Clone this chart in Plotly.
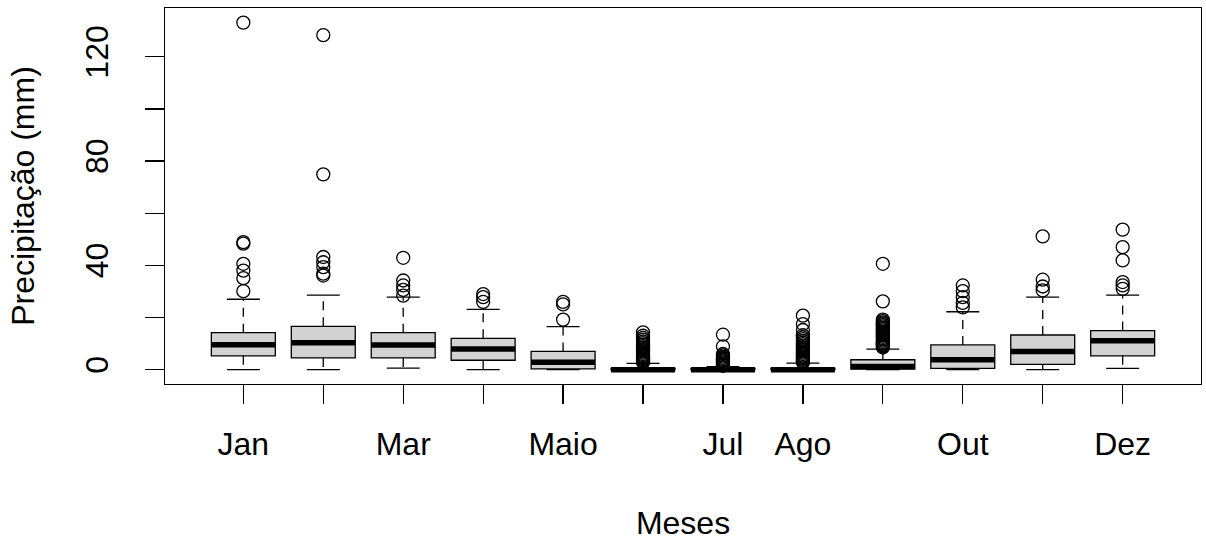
import plotly.graph_objects as go

months = ["Jan", "Fev", "Mar", "Abr", "Maio", "Jun", "Jul", "Ago", "Set", "Out", "Nov", "Dez"]
shown_labels = ["Jan", "", "Mar", "", "Maio", "", "Jul", "Ago", "", "Out", "", "Dez"]
positions = [1, 2, 3, 4, 5, 6, 7, 8, 9, 10, 11, 12]

q1 = [5.3, 4.5, 4.5, 3.6, 0.3, 0.0, 0.0, 0.0, 0.2, 0.5, 2.0, 5.3]
median = [9.6, 10.3, 9.5, 7.9, 2.8, 0.0, 0.0, 0.0, 1.2, 3.8, 7.0, 11.1]
q3 = [14.2, 16.6, 14.2, 12.0, 7.0, 0.5, 0.5, 0.5, 3.8, 9.5, 13.3, 15.0]
lower_whisker = [0.0, 0.0, 0.6, 0.0, 0.0, 0.0, 0.0, 0.0, 0.0, 0.0, 0.0, 0.5]
upper_whisker = [27.0, 28.6, 27.8, 23.1, 16.5, 2.4, 1.2, 2.5, 7.9, 22.2, 27.8, 28.6]

outliers = {
    "Jan": [133.1, 48.9, 48.3, 40.6, 38.0, 35.1, 30.1],
    "Fev": [128.3, 74.9, 43.2, 41.2, 39.3, 36.8, 36.1],
    "Mar": [42.9, 34.2, 32.3, 30.6, 28.4],
    "Abr": [29.0, 27.8, 26.0],
    "Maio": [26.0, 25.0, 19.2],
    "Jun": [2.8, 3.1, 3.4, 3.7, 4.0, 4.4, 4.8, 5.2, 5.6, 6.0, 6.5, 7.0, 7.5, 8.0, 8.5,
            9.0, 9.6, 10.2, 10.8, 11.5, 12.2, 13.0, 14.3],
    "Jul": [1.5, 1.8, 2.1, 2.4, 2.8, 3.2, 3.6, 4.0, 4.5, 5.0, 5.5, 6.0, 8.9, 13.4],
    "Ago": [2.8, 3.1, 3.4, 3.8, 4.2, 4.6, 5.0, 5.5, 6.0, 6.5, 7.0, 7.5, 8.0, 8.6,
            9.2, 9.8, 10.4, 11.0, 11.7, 12.4, 13.2, 15.2, 17.5, 20.7],
    "Set": [8.5, 8.9, 9.3, 9.7, 10.1, 10.6, 11.1, 11.6, 12.1, 12.6, 13.1, 13.6, 14.1,
            14.6, 15.1, 15.6, 16.1, 16.6, 17.1, 17.6, 18.1, 18.6, 19.2, 26.2, 40.6],
    "Out": [32.3, 30.1, 27.8, 25.6, 23.9],
    "Nov": [51.1, 34.5, 31.9, 30.4],
    "Dez": [53.7, 47.0, 41.9, 33.6, 32.3, 31.0],
}

x_title = "Meses"
y_title = "Precipitação (mm)"
y_tick_vals = [0, 40, 80, 120]
y_minor_vals = [0, 20, 40, 60, 80, 100, 120]

FONT = "Liberation Sans, Arial, sans-serif"
BOX_W = 0.8
LINE_EW_SCALE = 1.4  # plotly draws line-ew markers 1.4x their nominal size

fig = go.Figure()

# boxes (no whiskers: fences set at the quartiles)
fig.add_trace(go.Box(
    x=positions, q1=q1, median=median, q3=q3,
    lowerfence=q1, upperfence=q3,
    width=BOX_W, whiskerwidth=0,
    fillcolor="#d3d3d3", line=dict(color="black", width=1.3),
    boxpoints=False, showlegend=False, hoverinfo="skip",
))

# dashed whiskers
wx, wy = [], []
for p, a, b, c, d in zip(positions, q1, q3, lower_whisker, upper_whisker):
    wx += [p, p, None, p, p, None]
    wy += [b, d, None, a, c, None]
fig.add_trace(go.Scatter(
    x=wx, y=wy, mode="lines",
    line=dict(color="black", width=1.3, dash="9px,7px"),
    showlegend=False, hoverinfo="skip",
))

# whisker caps
fig.add_trace(go.Scatter(
    x=positions + positions, y=lower_whisker + upper_whisker, mode="markers",
    marker=dict(symbol="line-ew", size=33 / LINE_EW_SCALE, line=dict(color="black", width=1.3)),
    showlegend=False, hoverinfo="skip",
))

# thick medians
fig.add_trace(go.Scatter(
    x=positions, y=median, mode="markers",
    marker=dict(symbol="line-ew", size=64 / LINE_EW_SCALE, line=dict(color="black", width=5.5)),
    showlegend=False, hoverinfo="skip",
))

# outliers
ox, oy = [], []
for p, m in zip(positions, months):
    for v in outliers[m]:
        ox.append(p)
        oy.append(v)
fig.add_trace(go.Scatter(
    x=ox, y=oy, mode="markers",
    marker=dict(symbol="circle-open", size=13, color="black", line=dict(color="black", width=1.3)),
    showlegend=False, hoverinfo="skip",
))

fig.update_layout(
    width=1206, height=541,
    margin=dict(l=165, r=5, t=8, b=157, autoexpand=False),
    paper_bgcolor="white", plot_bgcolor="white",
    font=dict(family=FONT, size=32, color="black"),
    showlegend=False,
)
fig.update_xaxes(
    range=[0.02, 12.98], automargin=False,
    tickmode="array", tickvals=positions, ticktext=shown_labels,
    ticks="outside", ticklen=19, tickwidth=1.3, tickcolor="black",
    ticklabelstandoff=12,
    showline=True, linecolor="black", linewidth=1.3, mirror=True,
    showgrid=False, zeroline=False,
    title=dict(text=x_title, standoff=53, font=dict(size=32)),
    tickfont=dict(size=32),
)
fig.update_yaxes(
    range=[-5.5, 138.7], automargin=False,
    tickmode="array", tickvals=y_minor_vals,
    ticktext=[str(v) if v in y_tick_vals else "" for v in y_minor_vals],
    tickangle=-90,
    ticks="outside", ticklen=19, tickwidth=1.3, tickcolor="black",
    ticklabelstandoff=24,
    showline=True, linecolor="black", linewidth=1.3, mirror=True,
    showgrid=False, zeroline=False,
    title=dict(text=y_title, standoff=34, font=dict(size=32)),
    tickfont=dict(size=32),
)

fig.write_html(
    "out.html",
    config={"displayModeBar": False, "staticPlot": True},
    post_script="document.body.style.margin='0';document.body.style.overflow='hidden';",
)
